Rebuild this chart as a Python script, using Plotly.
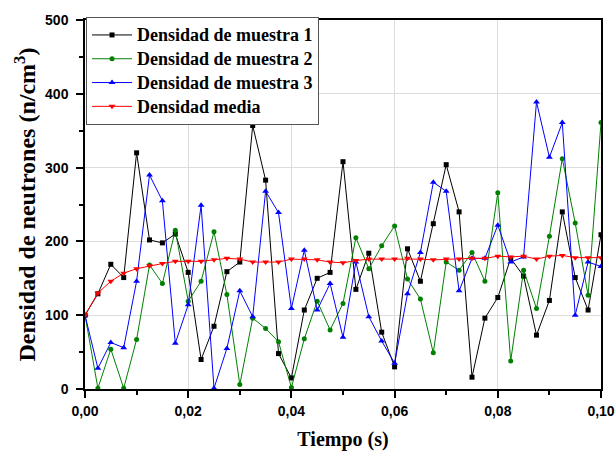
import plotly.graph_objects as go

tiempo = [round(0.0025 * i, 4) for i in range(41)]

muestra1 = [100, 129, 169, 151, 320, 202, 198, 210, 158, 40, 85, 159, 172, 357,
            283, 48, 15, 107, 150, 158, 308, 135, 184, 77, 30, 190, 146, 224,
            304, 240, 16, 96, 124, 177, 153, 73, 120, 240, 151, 107, 209]
muestra2 = [100, 1, 54, 1, 67, 168, 143, 215, 119, 146, 213, 128, 6, 96,
            82, 64, 2, 68, 119, 80, 116, 205, 163, 194, 221, 149, 122, 49,
            172, 161, 185, 146, 266, 38, 161, 109, 207, 312, 225, 127, 361]
muestra3 = [100, 28, 63, 56, 146, 290, 255, 62, 114, 249, 1, 55, 133, 98,
            268, 239, 109, 188, 107, 143, 70, 172, 98, 65, 35, 129, 185, 280,
            268, 133, 177, 177, 222, 172, 179, 389, 314, 361, 100, 172, 166]
media = [100, 130, 146, 157, 163, 167, 170, 173, 173, 173, 175, 177, 176, 172,
         172, 172, 176, 176, 175, 172, 171, 174, 176, 176, 176, 177, 176, 175,
         176, 176, 177, 177, 180, 179, 180, 176, 180, 181, 178, 178, 178]

nombres = ["Densidad de muestra 1", "Densidad de muestra 2",
           "Densidad de muestra 3", "Densidad media"]
colores = ["#000000", "#008000", "#0000ff", "#ff0000"]
simbolos = ["square", "circle", "triangle-up", "triangle-down"]
tamanos = [5, 5, 6, 6]
valores = [muestra1, muestra2, muestra3, media]

fig = go.Figure()
for name, vals, col, sym, sz in zip(nombres, valores, colores, simbolos, tamanos):
    fig.add_trace(go.Scatter(
        x=tiempo, y=vals, mode="lines+markers",
        name='<span style="font-size:18px">' + name + '</span>',
        line=dict(color=col, width=1),
        marker=dict(symbol=sym, size=sz, color=col),
    ))

axis_common = dict(
    showline=True, linecolor="black", linewidth=1.5, mirror=True,
    ticks="outside", ticklen=7, tickwidth=1.5, tickcolor="black",
    showgrid=True, gridcolor="#dcdcdc", gridwidth=1,
    zeroline=False, automargin=False,
    tickfont=dict(family="Liberation Sans", size=14, color="black", weight="bold"),
)

fig.update_xaxes(
    range=[0, 0.1], dtick=0.02, tickformat=".2f", ticklabelstandoff=1,
    minor=dict(dtick=0.01, ticks="outside", ticklen=4, tickcolor="black", showgrid=False),
    title=dict(text="<b>Tiempo (s)</b>", font=dict(family="Liberation Serif", size=20, color="black"), standoff=22),
    **axis_common,
)
fig.update_yaxes(
    range=[0, 500], dtick=100, ticklabelstandoff=5,
    minor=dict(dtick=50, ticks="outside", ticklen=4, tickcolor="black", showgrid=False),
    title=dict(text="<b>Densidad de neutrones (n/cm<sup>3</sup>)</b>", font=dict(family="Liberation Serif", size=24, color="black"), standoff=3),
    **axis_common,
)

fig.update_layout(
    width=616, height=451,
    margin=dict(l=85, r=15, t=20, b=62),
    paper_bgcolor="white", plot_bgcolor="white",
    separators=",.",
    legend=dict(
        x=0.002, y=1.008, xanchor="left", yanchor="top",
        bgcolor="white", bordercolor="#555555", borderwidth=1,
        font=dict(family="Liberation Serif", size=16, color="black", weight="bold"),
        tracegroupgap=0, itemwidth=40,
    ),
    showlegend=True,
)

fig.write_html("out.html")
